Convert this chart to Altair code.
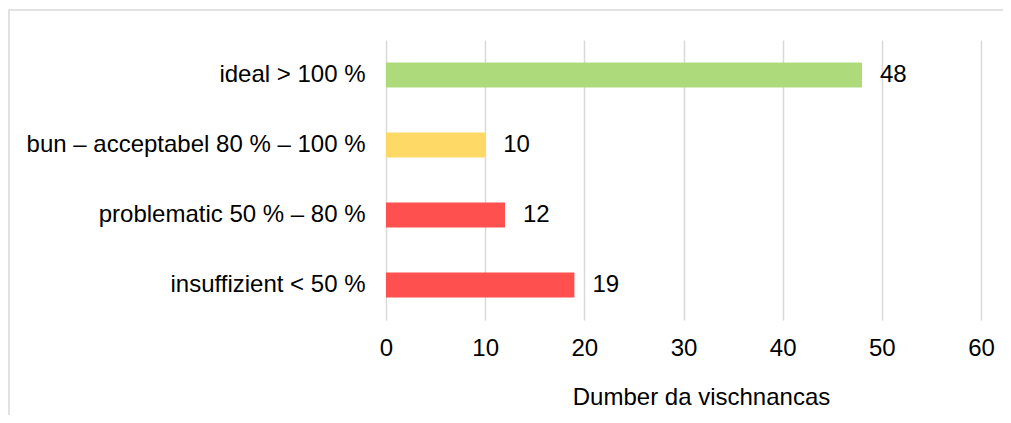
import altair as alt
import pandas as pd

categories = ["ideal > 100 %", "bun – acceptabel 80 % – 100 %", "problematic 50 % – 80 %", "insuffizient < 50 %"]
values = [48, 10, 12, 19]
bar_colors = ["#ADDB7B", "#FFD966", "#FF5050", "#FF5050"]
tick_values = [0, 10, 20, 30, 40, 50, 60]

df = pd.DataFrame({"cat": categories, "val": values, "color": bar_colors})

FONT = "Liberation Sans"
FS = 24

y_enc = alt.Y(
    "cat:N",
    sort=categories,
    scale=alt.Scale(paddingInner=0.643, paddingOuter=0.32),
    axis=alt.Axis(title=None, labelFontSize=FS, labelPadding=21, ticks=False, domain=False,
                  labelColor="#000000", labelFont=FONT, labelLimit=500),
)
x_enc = alt.X(
    "val:Q",
    scale=alt.Scale(domain=[0, 60]),
    axis=alt.Axis(values=tick_values, grid=True, gridColor="#D9D9D9", gridWidth=1.5,
                  ticks=False, domain=False, labelPadding=16, labelFontSize=FS,
                  labelColor="#000000", labelFont=FONT, labelFlush=False,
                  title="Dumber da vischnancas", titleFontSize=FS, titleFont=FONT,
                  titleFontWeight="normal", titleColor="#000000", titlePadding=25,
                  titleX=315, titleAnchor="middle"),
)

bars = alt.Chart(df).mark_bar().encode(
    y=y_enc, x=x_enc, color=alt.Color("color:N", scale=None)
)
labels = alt.Chart(df).mark_text(align="left", baseline="middle", dx=18, fontSize=FS,
                                 font=FONT, color="#000000").encode(
    y=alt.Y("cat:N", sort=categories), x="val:Q", text="val:Q"
)
frame = alt.Chart(pd.DataFrame({"a": [0]})).mark_rect(
    fill=None, stroke="#D9D9D9", strokeWidth=1.5
).encode(
    x=alt.value(-377), x2=alt.value(800), y=alt.value(-30), y2=alt.value(600)
)

chart = alt.layer(frame, bars, labels).properties(
    width=595, height=280,
    autosize=alt.AutoSizeParams(type="none"),
    padding={"left": 378, "top": 32, "right": 22, "bottom": 95},
).configure_view(stroke=None)

chart.save("out.html", embed_options={"renderer": "svg", "actions": False})
